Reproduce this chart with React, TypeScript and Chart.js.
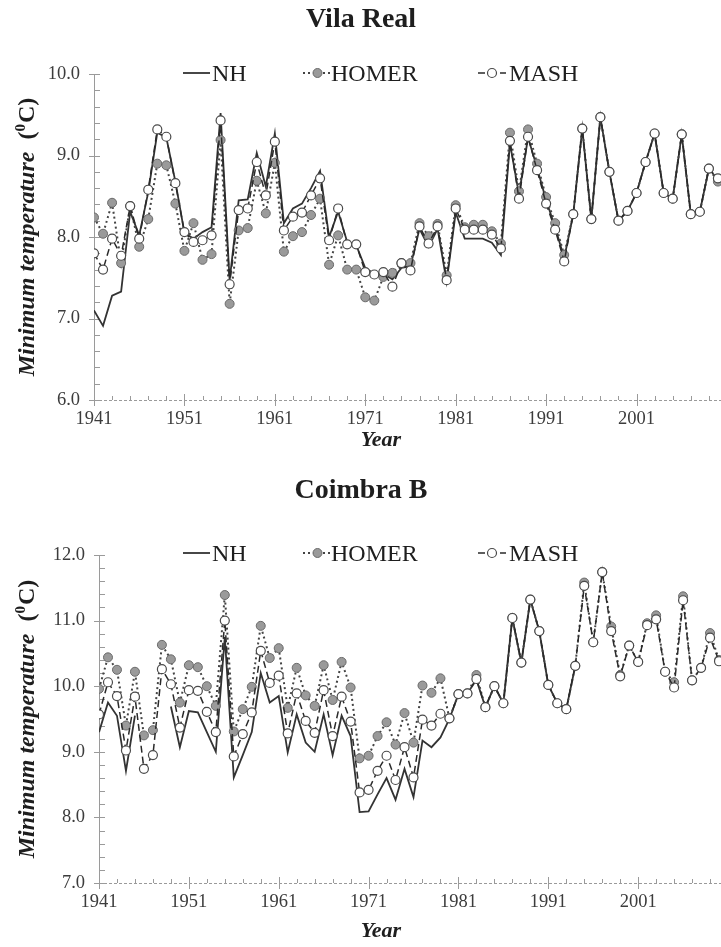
import React, { useEffect, useRef } from 'react';
import { Chart, registerables } from 'chart.js';

Chart.register(...registerables);

// Years of record, 1941–2010
const years: number[] = [
  1941, 1942, 1943, 1944, 1945, 1946, 1947, 1948, 1949, 1950,
  1951, 1952, 1953, 1954, 1955, 1956, 1957, 1958, 1959, 1960,
  1961, 1962, 1963, 1964, 1965, 1966, 1967, 1968, 1969, 1970,
  1971, 1972, 1973, 1974, 1975, 1976, 1977, 1978, 1979, 1980,
  1981, 1982, 1983, 1984, 1985, 1986, 1987, 1988, 1989, 1990,
  1991, 1992, 1993, 1994, 1995, 1996, 1997, 1998, 1999, 2000,
  2001, 2002, 2003, 2004, 2005, 2006, 2007, 2008, 2009, 2010,
];

const yearTicks = [1941, 1951, 1961, 1971, 1981, 1991, 2001];

// Vila Real – annual mean minimum temperature (°C)
const vilaRealNH: (number | null)[] = [
  7.10, 6.91, 7.28, 7.33, 8.31, 8.02, 8.55, 9.28, 9.22, 8.68,
  8.05, 7.98, 8.06, 8.12, 9.52, 7.47, 8.45, 8.46, 9.03, 8.62,
  9.27, 8.17, 8.35, 8.41, 8.60, 8.81, 8.00, 8.31, 7.94, 7.90,
  7.62, 7.55, 7.55, 7.48, 7.62, 7.64, 8.10, 7.88, 8.10, 7.45,
  8.30, 7.98, 7.98, 7.98, 7.93, 7.78, 9.15, 8.52, 9.22, 8.85,
  8.45, 8.12, 7.74, 8.28, 9.33, 8.22, 9.47, 8.80, 8.20, 8.32,
  8.54, 8.92, 9.27, 8.54, 8.47, 9.26, 8.28, 8.31, 8.84, 8.70,
];
const vilaRealHOMER: (number | null)[] = [
  8.24, 8.04, 8.42, 7.68, 8.38, 7.88, 8.22, 8.90, 8.88, 8.41,
  7.83, 8.17, 7.72, 7.79, 9.19, 7.18, 8.08, 8.11, 8.69, 8.29,
  8.91, 7.82, 8.01, 8.06, 8.27, 8.47, 7.66, 8.02, 7.60, 7.60,
  7.26, 7.22, 7.51, 7.56, 7.68, 7.68, 8.17, 8.01, 8.16, 7.53,
  8.39, 8.12, 8.15, 8.15, 8.07, 7.92, 9.28, 8.56, 9.32, 8.90,
  8.49, 8.17, 7.78, 8.28, 9.33, 8.22, 9.47, 8.80, 8.20, 8.32,
  8.54, 8.92, 9.27, 8.54, 8.47, 9.26, 8.28, 8.31, 8.84, 8.68,
];
const vilaRealMASH: (number | null)[] = [
  7.80, 7.60, 7.98, 7.77, 8.38, 7.98, 8.58, 9.32, 9.23, 8.66,
  8.06, 7.94, 7.96, 8.02, 9.43, 7.42, 8.33, 8.35, 8.92, 8.51,
  9.17, 8.08, 8.25, 8.30, 8.51, 8.72, 7.96, 8.35, 7.91, 7.91,
  7.57, 7.54, 7.57, 7.39, 7.68, 7.59, 8.13, 7.92, 8.13, 7.47,
  8.35, 8.09, 8.09, 8.09, 8.03, 7.86, 9.18, 8.47, 9.23, 8.82,
  8.41, 8.09, 7.70, 8.28, 9.33, 8.22, 9.47, 8.80, 8.20, 8.32,
  8.54, 8.92, 9.27, 8.54, 8.47, 9.26, 8.28, 8.31, 8.84, 8.72,
];
const vilaRealTempTicks = [6, 7, 8, 9, 10];

// Coimbra B – annual mean minimum temperature (°C)
const coimbraNH: (number | null)[] = [
  9.30, 9.75, 9.55, 8.71, 9.55, null, null, null, 9.69, 9.07,
  9.62, 9.60, 9.30, 9.00, 10.75, 8.61, 8.95, 9.30, 10.20, 9.75,
  9.85, 8.99, 9.57, 9.14, 9.00, 9.57, 8.95, 9.55, 9.24, 8.08,
  8.09, 8.35, 8.60, 8.27, 8.74, 8.31, 9.17, 9.07, 9.22, 9.50,
  9.88, 9.89, 10.10, 9.68, 10.00, 9.74, 11.04, 10.36, 11.32, 10.84,
  10.02, 9.74, 9.65, 10.31, null, null, null, null, null, null,
  null, null, null, null, null, null, null, null, null, null,
];
const coimbraHOMER: (number | null)[] = [
  9.96, 10.44, 10.25, 9.40, 10.22, 9.25, 9.33, 10.63, 10.41, 9.75,
  10.32, 10.29, 10.00, 9.70, 11.39, 9.31, 9.65, 9.99, 10.92, 10.43,
  10.58, 9.67, 10.28, 9.86, 9.70, 10.32, 9.79, 10.37, 9.98, 8.90,
  8.94, 9.24, 9.45, 9.11, 9.59, 9.14, 10.01, 9.90, 10.12, 9.51,
  9.88, 9.89, 10.17, 9.68, 10.00, 9.74, 11.04, 10.36, 11.32, 10.84,
  10.02, 9.74, 9.65, 10.31, 11.58, 10.67, 11.74, 10.91, 10.17, 10.62,
  10.37, 10.96, 11.08, 10.22, 10.06, 11.37, 10.09, 10.28, 10.81, 10.40,
];
const coimbraMASH: (number | null)[] = [
  9.57, 10.06, 9.85, 9.02, 9.84, 8.74, 8.95, 10.26, 10.03, 9.37,
  9.94, 9.93, 9.61, 9.30, 11.00, 8.93, 9.27, 9.60, 10.54, 10.05,
  10.16, 9.28, 9.89, 9.47, 9.29, 9.94, 9.24, 9.84, 9.46, 8.38,
  8.42, 8.71, 8.94, 8.57, 9.07, 8.61, 9.49, 9.40, 9.58, 9.51,
  9.88, 9.89, 10.11, 9.68, 10.00, 9.74, 11.04, 10.36, 11.32, 10.84,
  10.02, 9.74, 9.65, 10.31, 11.53, 10.67, 11.74, 10.84, 10.15, 10.62,
  10.37, 10.93, 11.02, 10.22, 9.98, 11.31, 10.09, 10.28, 10.74, 10.38,
];
const coimbraTempTicks = [7, 8, 9, 10, 11, 12];

const SERIF = '"Liberation Serif", "Times New Roman", Times, serif';
const CANVAS_W = 770;

type PanelSpec = {
  title: string;
  nh: (number | null)[];
  homer: (number | null)[];
  mash: (number | null)[];
  tempTicks: number[];
  canvasTop: number;
  canvasHeight: number;
  plotLeft: number;
  plotTop: number;
  plotBottom: number;
  plotRight: number;
  titleY: number;
  legendY: number;
  yearY: number;
};

const panels: PanelSpec[] = [
  {
    title: 'Vila Real',
    nh: vilaRealNH,
    homer: vilaRealHOMER,
    mash: vilaRealMASH,
    tempTicks: vilaRealTempTicks,
    canvasTop: 0,
    canvasHeight: 470,
    plotLeft: 94,
    plotTop: 74,
    plotBottom: 400,
    plotRight: 736,
    titleY: 20,
    legendY: 73,
    yearY: 440,
  },
  {
    title: 'Coimbra B',
    nh: coimbraNH,
    homer: coimbraHOMER,
    mash: coimbraMASH,
    tempTicks: coimbraTempTicks,
    canvasTop: 470,
    canvasHeight: 477,
    plotLeft: 99,
    plotTop: 85,
    plotBottom: 413,
    plotRight: 737,
    titleY: 21,
    legendY: 83,
    yearY: 461,
  },
];

function toPoints(values: (number | null)[]) {
  return years.map((x, i) => ({ x, y: values[i] }));
}

function makeDecor(spec: PanelSpec) {
  const axisColor = '#9a9a9a';
  return {
    id: 'decor',
    beforeDatasetsDraw(chart: any) {
      const { ctx, chartArea, scales } = chart;
      const { left, top, bottom, right } = chartArea;
      const xs = scales.x;
      const ys = scales.y;
      ctx.save();
      ctx.strokeStyle = axisColor;
      ctx.lineWidth = 1;
      // vertical axis with major and minor ticks
      ctx.beginPath();
      ctx.moveTo(left + 0.5, top);
      ctx.lineTo(left + 0.5, bottom);
      ctx.stroke();
      const t0 = spec.tempTicks[0];
      const t1 = spec.tempTicks[spec.tempTicks.length - 1];
      const steps = Math.round((t1 - t0) * 5);
      for (let k = 0; k <= steps; k++) {
        const v = t0 + k * 0.2;
        const py = Math.round(ys.getPixelForValue(v)) + 0.5;
        const major = k % 5 === 0;
        ctx.beginPath();
        ctx.moveTo(major ? left - 5 : left, py);
        ctx.lineTo(left + 6, py);
        ctx.stroke();
      }
      // horizontal axis (dashed) with major and minor ticks
      ctx.save();
      ctx.setLineDash([3, 2]);
      ctx.beginPath();
      ctx.moveTo(left, bottom + 0.5);
      ctx.lineTo(right, bottom + 0.5);
      ctx.stroke();
      ctx.restore();
      for (let yr = 1941; yr <= 2012; yr += 2) {
        const px = Math.round(xs.getPixelForValue(yr)) + 0.5;
        const major = (yr - 1941) % 10 === 0;
        ctx.beginPath();
        ctx.moveTo(px, bottom - (major ? 6 : 4));
        ctx.lineTo(px, bottom + (major ? 6 : 0));
        ctx.stroke();
      }
      ctx.restore();
    },
    afterDraw(chart: any) {
      const { ctx, chartArea } = chart;
      const ds = chart.data.datasets;
      ctx.save();
      ctx.fillStyle = '#1e1e1e';
      // panel title
      ctx.font = `bold 28px ${SERIF}`;
      ctx.textAlign = 'center';
      ctx.textBaseline = 'middle';
      ctx.fillText(spec.title, 361, spec.titleY);

      // legend
      const ly = spec.legendY;
      const items = [
        { d: ds[0], x0: 183, x1: 210, tx: 212 },
        { d: ds[1], x0: 303, x1: 332, tx: 331 },
        { d: ds[2], x0: 478, x1: 506, tx: 509 },
      ];
      items.forEach(({ d, x0, x1, tx }) => {
        ctx.save();
        ctx.strokeStyle = d.borderColor;
        ctx.lineWidth = d.borderWidth;
        ctx.setLineDash(d.borderDash || []);
        ctx.beginPath();
        ctx.moveTo(x0, ly);
        ctx.lineTo(x1, ly);
        ctx.stroke();
        ctx.setLineDash([]);
        if (d.pointRadius > 0) {
          ctx.beginPath();
          ctx.arc((x0 + x1) / 2, ly, d.pointRadius, 0, Math.PI * 2);
          ctx.fillStyle = d.pointBackgroundColor;
          ctx.fill();
          ctx.lineWidth = d.pointBorderWidth;
          ctx.strokeStyle = d.pointBorderColor;
          ctx.stroke();
        }
        ctx.restore();
        ctx.font = `24px ${SERIF}`;
        ctx.textAlign = 'left';
        ctx.textBaseline = 'alphabetic';
        ctx.fillStyle = '#1e1e1e';
        ctx.fillText(d.label, tx, ly + 8);
      });

      // horizontal axis title
      ctx.font = `bold italic 22px ${SERIF}`;
      ctx.textAlign = 'center';
      ctx.textBaseline = 'middle';
      ctx.fillText('Year', 381, spec.yearY);

      // vertical axis title: "Minimum temperature  (⁰C)"
      const cy = (chartArea.top + chartArea.bottom) / 2;
      const main = 'Minimum temperature';
      const fMain = `bold italic 24px ${SERIF}`;
      const fUnit = `bold 24px ${SERIF}`;
      const fSup = `bold 15px ${SERIF}`;
      ctx.font = fMain;
      const wMain = ctx.measureText(main + '  ').width;
      ctx.font = fUnit;
      const wOpen = ctx.measureText('(').width;
      const wClose = ctx.measureText('C)').width;
      ctx.font = fSup;
      const wSup = ctx.measureText('0').width + 1;
      const total = wMain + wOpen + wSup + wClose;
      ctx.translate(26, cy);
      ctx.rotate(-Math.PI / 2);
      ctx.textAlign = 'left';
      ctx.textBaseline = 'alphabetic';
      let x = -total / 2;
      const base = 8;
      ctx.font = fMain;
      ctx.fillText(main, x, base);
      x += wMain;
      ctx.font = fUnit;
      ctx.fillText('(', x, base);
      x += wOpen;
      ctx.font = fSup;
      ctx.fillText('0', x, base - 9);
      x += wSup;
      ctx.font = fUnit;
      ctx.fillText('C)', x, base);
      ctx.restore();
    },
  };
}

function Panel({ spec }: { spec: PanelSpec }) {
  const ref = useRef<HTMLCanvasElement | null>(null);
  useEffect(() => {
    const canvas = ref.current;
    if (!canvas) return;
    const tickFont = { family: SERIF, size: 18.5 };
    const chart = new Chart(canvas, {
      type: 'line',
      data: {
        datasets: [
          {
            label: 'NH',
            data: toPoints(spec.nh),
            borderColor: '#333333',
            borderWidth: 1.8,
            pointRadius: 0,
            spanGaps: false,
            order: 3,
          },
          {
            label: 'HOMER',
            data: toPoints(spec.homer),
            borderColor: '#444444',
            borderWidth: 2,
            borderDash: [2, 3],
            pointRadius: 4.5,
            pointBackgroundColor: '#9a9a9a',
            pointBorderColor: '#6a6a6a',
            pointBorderWidth: 1,
            order: 2,
          },
          {
            label: 'MASH',
            data: toPoints(spec.mash),
            borderColor: '#2a2a2a',
            borderWidth: 1.5,
            borderDash: [7, 4],
            pointRadius: 4.5,
            pointBackgroundColor: '#ffffff',
            pointBorderColor: '#4a4a4a',
            pointBorderWidth: 1.2,
            order: 1,
          },
        ] as any,
      },
      options: {
        responsive: false,
        animation: false,
        events: [],
        layout: {
          padding: { top: spec.plotTop, right: CANVAS_W - spec.plotRight, bottom: 0, left: 0 },
        },
        plugins: {
          legend: { display: false },
          tooltip: { enabled: false },
          title: { display: false },
        },
        scales: {
          x: {
            type: 'linear',
            min: 1941,
            max: 2012,
            grid: { display: false, drawTicks: false },
            border: { display: false },
            afterBuildTicks: (s: any) => {
              s.ticks = yearTicks.map((value) => ({ value }));
            },
            afterFit: (s: any) => {
              s.height = spec.canvasHeight - spec.plotBottom;
            },
            ticks: {
              autoSkip: false,
              maxRotation: 0,
              padding: 8,
              color: '#3c3c3c',
              font: tickFont,
              callback: (v: any) => String(v),
            },
          },
          y: {
            type: 'linear',
            min: spec.tempTicks[0],
            max: spec.tempTicks[spec.tempTicks.length - 1],
            grid: { display: false, drawTicks: false },
            border: { display: false },
            afterBuildTicks: (s: any) => {
              s.ticks = spec.tempTicks.map((value) => ({ value }));
            },
            afterFit: (s: any) => {
              s.width = spec.plotLeft;
            },
            ticks: {
              padding: 14,
              color: '#3c3c3c',
              font: tickFont,
              callback: (v: any) => Number(v).toFixed(1),
            },
          },
        },
      } as any,
      plugins: [makeDecor(spec)],
    });
    return () => chart.destroy();
  }, [spec]);
  return (
    <canvas
      ref={ref}
      width={CANVAS_W}
      height={spec.canvasHeight}
      style={{
        position: 'absolute',
        left: 0,
        top: spec.canvasTop,
        width: CANVAS_W,
        height: spec.canvasHeight,
      }}
    />
  );
}

export default function App() {
  return (
    <div
      style={{
        position: 'absolute',
        left: 0,
        top: 0,
        width: 721,
        height: 947,
        overflow: 'hidden',
        background: '#ffffff',
      }}
    >
      {panels.map((p) => (
        <Panel key={p.title} spec={p} />
      ))}
    </div>
  );
}
